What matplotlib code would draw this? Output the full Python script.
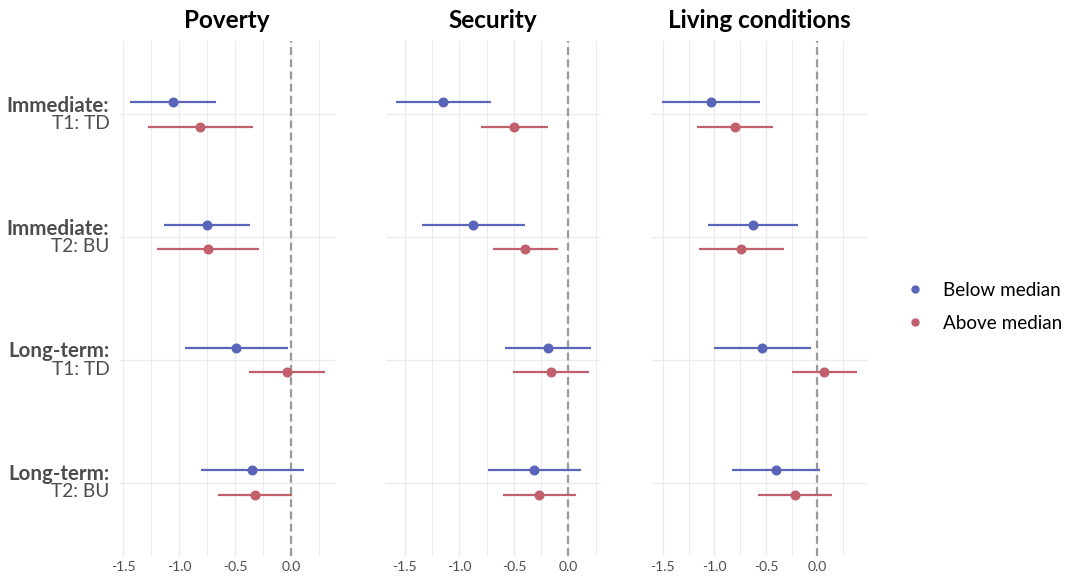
import matplotlib
matplotlib.use("Agg")
import matplotlib.pyplot as plt
from matplotlib.lines import Line2D
from matplotlib.ticker import MultipleLocator
import matplotlib.transforms as mtransforms

plt.rcParams['font.family'] = ['Lato', 'DejaVu Sans']

panels = ["Poverty", "Security", "Living conditions"]
row_bold = ["Immediate:", "Immediate:", "Long-term:", "Long-term:"]
row_sub = ["T1: TD", "T2: BU", "T1: TD", "T2: BU"]
groups = ["Below median", "Above median"]
colors = ["#5A65BA", "#C25F6D"]

# estimates per panel, per group, per row (Imm T1, Imm T2, LT T1, LT T2)
est = {
    "Poverty": {
        "Below median": [-1.057, -0.750, -0.488, -0.346],
        "Above median": [-0.812, -0.741, -0.039, -0.319],
    },
    "Security": {
        "Below median": [-1.147, -0.871, -0.189, -0.312],
        "Above median": [-0.495, -0.394, -0.162, -0.266],
    },
    "Living conditions": {
        "Below median": [-1.032, -0.624, -0.534, -0.398],
        "Above median": [-0.802, -0.738, 0.062, -0.214],
    },
}
lo = {
    "Poverty": {
        "Below median": [-1.441, -1.131, -0.950, -0.807],
        "Above median": [-1.277, -1.196, -0.372, -0.649],
    },
    "Security": {
        "Below median": [-1.584, -1.345, -0.584, -0.737],
        "Above median": [-0.798, -0.688, -0.510, -0.602],
    },
    "Living conditions": {
        "Below median": [-1.511, -1.058, -1.006, -0.825],
        "Above median": [-1.171, -1.152, -0.249, -0.573],
    },
}
hi = {
    "Poverty": {
        "Below median": [-0.673, -0.370, -0.027, 0.116],
        "Above median": [-0.343, -0.283, 0.300, 0.012],
    },
    "Security": {
        "Below median": [-0.709, -0.394, 0.205, 0.119],
        "Above median": [-0.183, -0.098, 0.190, 0.071],
    },
    "Living conditions": {
        "Below median": [-0.553, -0.187, -0.064, 0.029],
        "Above median": [-0.433, -0.323, 0.382, 0.146],
    },
}

W, H = 1066, 582
fig = plt.figure(figsize=(W / 100, H / 100), dpi=100)

lefts = [120, 386, 652]
pw = 214.5
ptop, pbot = 40.6, 556.4
offsets = [-0.1, 0.1]
grid_c = "#EBEBEB"

for i, name in enumerate(panels):
    ax = fig.add_axes([lefts[i] / W, (H - pbot) / H, pw / W, (pbot - ptop) / H])
    ax.set_facecolor("white")
    for s in ax.spines.values():
        s.set_visible(False)
    ypos = list(range(len(row_bold)))
    for g, grp in enumerate(groups):
        for r in ypos:
            y = r + offsets[g]
            ax.plot([lo[name][grp][r], hi[name][grp][r]], [y, y], color=colors[g],
                    lw=1.6, solid_capstyle='butt', zorder=3)
        ax.plot(est[name][grp], [r + offsets[g] for r in ypos], 'o', color=colors[g],
                ms=6.2, zorder=4)
    ax.axvline(0, color="#9A9A9A", lw=1.6, ls=(0, (3.5, 2.0)), zorder=2)
    ax.margins(x=0.05)
    ax.set_ylim(len(row_bold) - 1 + 0.6, -0.6)
    ax.xaxis.set_major_locator(MultipleLocator(0.5))
    ax.xaxis.set_minor_locator(MultipleLocator(0.25))
    ax.set_yticks(ypos)
    ax.set_yticklabels([])
    ax.grid(True, which='major', axis='both', color=grid_c, lw=1.0, zorder=0)
    ax.grid(True, which='minor', axis='x', color=grid_c, lw=0.7, zorder=0)
    ax.set_axisbelow(True)
    ax.tick_params(axis='both', which='both', length=0)
    ax.tick_params(axis='x', labelsize=10, labelcolor="#4D4D4D", pad=3)
    ax.xaxis.set_major_formatter(matplotlib.ticker.FuncFormatter(lambda v, p: f"{v:.1f}".replace("-0.0", "0.0")))
    ax.set_title(name, fontsize=17.5, fontweight='bold', color="black", pad=9)
    if i == 0:
        trans = mtransforms.blended_transform_factory(ax.transAxes, ax.transData)
        for r in ypos:
            ax.text(-0.05, r - 0.02, row_bold[r], transform=trans, ha='right', va='baseline',
                    fontsize=14.8, fontweight='bold', color="#4D4D4D")
            ax.text(-0.05, r + 0.12, row_sub[r], transform=trans, ha='right', va='baseline',
                    fontsize=13.8, color="#4D4D4D")

handles = [Line2D([], [], ls='none', marker='o', ms=5, color=c) for c in colors]
fig.legend(handles, groups, loc='center left', bbox_to_anchor=(904 / W, 1 - 307 / H),
           frameon=False, fontsize=13.6, handletextpad=0.88, labelspacing=0.85,
           handlelength=1.2, borderpad=0, borderaxespad=0)

fig.savefig("out.png", dpi=100)
